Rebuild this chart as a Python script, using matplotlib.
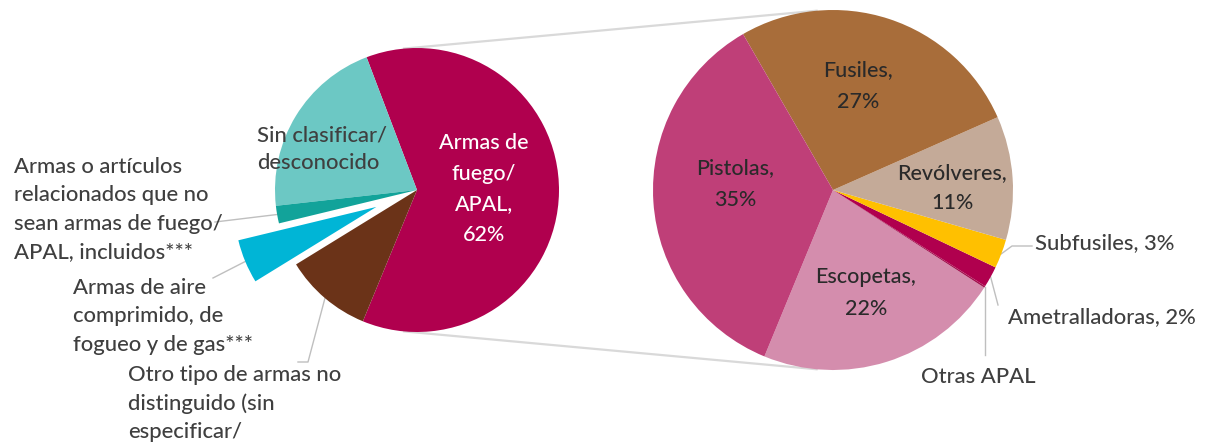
import numpy as np
import matplotlib
matplotlib.use("Agg")
import matplotlib.pyplot as plt

plt.rcParams['font.family'] = ['Lato', 'DejaVu Sans']

# left pie: all weapons seized
main_labels = ["Armas de fuego/APAL", "Sin clasificar/desconocido",
               "Armas o artículos relacionados", "Armas de aire comprimido",
               "Otro tipo de armas no distinguido"]
main_values = [62, 21, 2, 5, 10]
main_colors = ["#B0004E", "#6CC8C4", "#12A39A", "#00B5D6", "#6B3318"]
main_explode = [0, 0, 0, 0.31, 0]   # fraction of the radius

# right pie: breakdown of firearms
sub_labels = ["Escopetas", "Otras APAL", "Ametralladoras", "Subfusiles",
              "Revólveres", "Fusiles", "Pistolas"]
sub_values = [22.1, 0.15, 1.9, 2.6, 11.1, 26.7, 35.45]
sub_colors = ["#D48DAD", "#A3124F", "#B0004E", "#FFC000",
              "#C4AA98", "#A86D3A", "#BF3F78"]
sub_pct = [22, 0, 2, 3, 11, 27, 35]

W, H = 1217, 443

def py(y):
    # pixel row (top down) -> data y
    return H - y

fig = plt.figure(figsize=(W / 100, H / 100), dpi=100)
ax = fig.add_axes([0, 0, 1, 1])

c1, r1 = (417, py(190)), 142
c2, r2 = (833, py(190)), 180

# matplotlib's explode offset is absolute, so scale it by the radius
w1, _ = ax.pie(main_values, colors=main_colors,
               explode=[e * r1 for e in main_explode],
               startangle=-112.4, counterclock=True, center=c1, radius=r1,
               wedgeprops=dict(linewidth=0), frame=True)
w2, _ = ax.pie(sub_values, colors=sub_colors, startangle=-112.4,
               counterclock=True, center=c2, radius=r2,
               wedgeprops=dict(linewidth=0), frame=True)
for w in list(w1) + list(w2):
    w.set_zorder(3)

# connector lines: outer tangents of the two circles
d = c2[0] - c1[0]
phi = np.arcsin((r2 - r1) / d)
for s in (1, -1):
    a = np.pi / 2 + phi
    p1 = (c1[0] + r1 * np.cos(a), c1[1] + s * r1 * np.sin(a))
    p2 = (c2[0] + r2 * np.cos(a), c2[1] + s * r2 * np.sin(a))
    ax.plot([p1[0], p2[0]], [p1[1], p2[1]], color="#d9d9d9", lw=1.6, zorder=1)

def rim(w, frac=0.5, out=1.0):
    t = np.radians(w.theta1 + frac * (w.theta2 - w.theta1))
    return (w.center[0] + out * w.r * np.cos(t), w.center[1] + out * w.r * np.sin(t))

def lines(x, y0, step, s, **kw):
    # one text per line so the line pitch matches the original
    for i, ln in enumerate(s.split("\n")):
        ax.text(x, py(y0 + i * step + 6), ln, va="baseline", zorder=5, **kw)

lead = dict(color="#bfbfbf", lw=1.0, zorder=2)
txt = dict(fontsize=15.8, color="#3f3f3f", fontweight="medium")
inner = dict(fontsize=15.5, color="#2a2a2a", fontweight="medium", ha="center")

# left pie labels
lines(484, 143, 30.7, "Armas de\nfuego/\nAPAL,\n62%", color="white", fontsize=15.5,
      fontweight="medium", ha="center")
lines(257, 135, 28, "Sin clasificar/\ndesconocido", ha="left", **txt)

lines(14, 167, 28.4, "Armas o artículos\nrelacionados que no\nsean armas de fuego/\nAPAL, incluidos***",
      ha="left", **txt)
p = rim(w1[2], 0.5, 0.98)
ax.plot([215, p[0]], [py(222), p[1]], **lead)

lines(73, 288, 28.5, "Armas de aire\ncomprimido, de\nfogueo y de gas***", ha="left", **txt)
p = rim(w1[3], 0.5, 1.0)
ax.plot([213, p[0]], [py(278), p[1]], **lead)

lines(128, 375, 28.5, "Otro tipo de armas no\ndistinguido (sin\nespecificar/", ha="left", **txt)
p = rim(w1[4], 0.5, 1.0)
ax.plot([298, 308, p[0]], [py(362), py(362), p[1]], **lead)

# right pie labels
lines(735, 168, 32, f"{sub_labels[6]},\n{sub_pct[6]}%", **inner)
lines(858, 70, 32, f"{sub_labels[5]},\n{sub_pct[5]}%", **inner)
lines(952, 173, 30, f"{sub_labels[4]},\n{sub_pct[4]}%", **inner)
lines(866, 277, 32, f"{sub_labels[0]},\n{sub_pct[0]}%", **inner)

lines(1035, 243, 0, f"{sub_labels[3]}, {sub_pct[3]}%", ha="left", **txt)
p = rim(w2[3], 0.5, 1.0)
ax.plot([p[0], 1012, 1032], [p[1], py(246), py(246)], **lead)

lines(1008, 317, 0, f"{sub_labels[2]}, {sub_pct[2]}%", ha="left", **txt)
p = rim(w2[2], 0.5, 1.0)
ax.plot([p[0], 998], [p[1], py(305)], **lead)

lines(978, 377, 0, sub_labels[1], ha="center", **txt)
p = rim(w2[1], 0.5, 1.0)
ax.plot([p[0], p[0]], [p[1], py(355)], **lead)

ax.set_xlim(0, W)
ax.set_ylim(0, H)
ax.set_aspect("equal")
ax.axis("off")

fig.savefig("out.png", dpi=100, facecolor="white")
